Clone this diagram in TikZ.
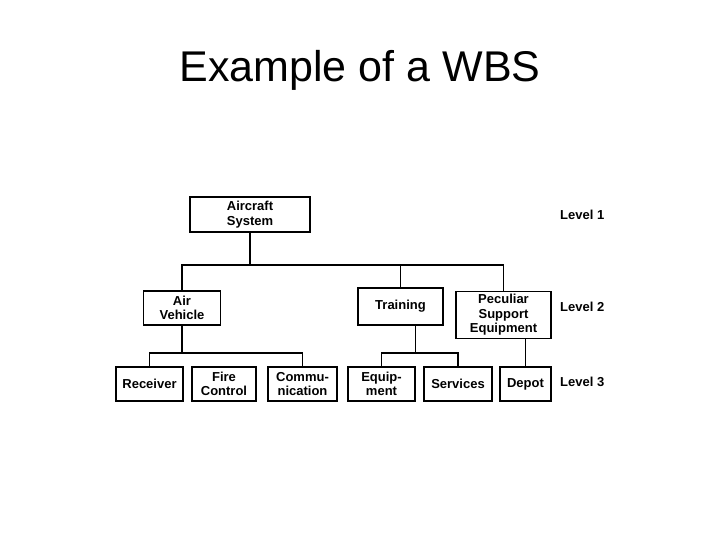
\documentclass[tikz,border=0pt]{standalone}
\usepackage{fontspec}
\setmainfont{Liberation Sans}
\usetikzlibrary{calc}

\tikzset{
  wbsbox/.style={draw, line width=1.6pt, inner sep=0pt, align=center,
    font=\fontsize{13}{14.5}\selectfont\bfseries},
  levellabel/.style={anchor=west, inner sep=0pt,
    font=\fontsize{13}{14.5}\selectfont\bfseries},
  link/.style={line width=1.1pt}
}

\begin{document}
\begin{tikzpicture}[x=1pt,y=-1pt]
            \useasboundingbox (0,0) rectangle (720,540);
            \node[anchor=base, font=\fontsize{43}{50}\selectfont] (title) at (360,82) {Example of a WBS};

            % level 1
            \node[wbsbox, minimum width=120pt, minimum height=35pt] (ac) at (250,214.5) {Aircraft\\System};

            % level 2
            \node[wbsbox, minimum width=77pt, minimum height=34pt] (av) at (182,308) {Air\\Vehicle};
            \node[wbsbox, minimum width=85pt, minimum height=37pt] (tr) at (400.5,306.5) {Training};
            \node[wbsbox, minimum width=95pt, minimum height=47pt] (pse) at (503.5,315) {Peculiar\\Support\\Equipment};

            % level 3
            \node[wbsbox, minimum width=67pt, minimum height=34pt] (rc) at (149.5,384) {Receiver};
            \node[wbsbox, minimum width=64pt, minimum height=34pt] (fc) at (224,384) {Fire\\Control};
            \node[wbsbox, minimum width=69pt, minimum height=34pt] (cm) at (302.5,384) {Commu-\\nication};
            \node[wbsbox, minimum width=67pt, minimum height=34pt] (eq) at (381.5,384) {Equip-\\ment};
            \node[wbsbox, minimum width=68pt, minimum height=34pt] (sv) at (458,384) {Services};
            \node[wbsbox, minimum width=51pt, minimum height=34pt] (dp) at (525.5,384) {Depot};

            \node[levellabel] (lv1) at (560,215) {Level 1};
            \node[levellabel] (lv2) at (560,307) {Level 2};
            \node[levellabel] (lv3) at (560,382) {Level 3};

            \coordinate (bus1) at (0,265);
            \coordinate (bus2) at (0,353);
            \coordinate (trdrop) at ($(eq.north)!.45!(sv.north)$);

            \draw[link] (ac.south) -- (ac.south |- bus1);
            \draw[link] (av.north) |- (pse.north |- bus1) -- (pse.north);
            \draw[link] (tr.north) -- (tr.north |- bus1);

            \draw[link] (av.south) -- (av.south |- bus2);
            \draw[link] (rc.north) |- (cm.north |- bus2) -- (cm.north);
            \draw[link] (tr.south -| trdrop) -- (trdrop |- bus2);
            \draw[link] (eq.north) |- (sv.north |- bus2) -- (sv.north);
            \draw[line width=0.8pt] (dp.north) -- (dp.north |- pse.south);

        \end{tikzpicture}
\end{document}
